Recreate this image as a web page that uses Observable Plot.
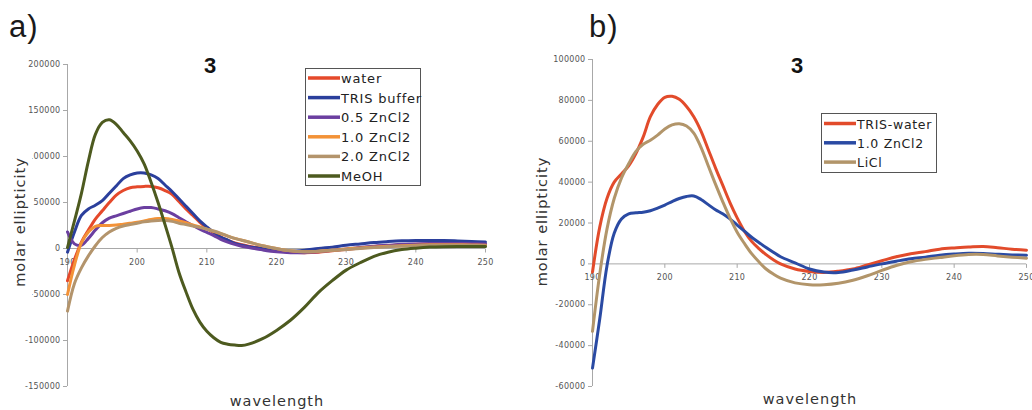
<!DOCTYPE html>
<html><head><meta charset="utf-8">
<script src="https://cdn.jsdelivr.net/npm/d3@7"></script>
<script src="https://cdn.jsdelivr.net/npm/@observablehq/plot@0.6"></script>
<style>
html,body{margin:0;padding:0;background:#fff;}
#wrap{position:relative;width:1032px;height:410px;overflow:hidden;background:#fff;}
#wrap svg{position:absolute;top:0;max-width:none;}
</style></head><body><div id="wrap"></div>
<script>
// ---- data ----
const wavelength = [190,191,192,193,194,195,196,197,198,199,200,201,202,203,204,205,206,207,208,209,210,211,212,213,214,215,216,
  218,220,222,224,226,228,230,232,234,236,238,240,242,244,246,248,250];
const xTicks = [190,200,210,220,230,240,250];

// panel a)
const seriesA = ["water","TRIS buffer","0.5 ZnCl2","1.0 ZnCl2","2.0 ZnCl2","MeOH"];
const water = [-35000,-12000,7000,20000,32000,41000,50000,58000,63000,66000,67000,67500,67500,66000,63000,59000,51000,43000,36000,28500,22500,17000,12500,9000,6000,4000,2500,
  0,-2500,-4000,-4500,-4000,-2500,-1000,500,2000,3000,4000,4500,5000,5000,5000,4800,4500];
const trisBuffer = [-4000,18000,36000,43000,47000,52000,60000,68000,76000,80000,82000,82000,80000,76000,69000,62000,54000,46000,38000,30000,23500,17500,12500,9000,5500,3500,2000,
  0,-2000,-3000,-2000,0,1500,3500,5000,6500,7500,8300,8700,8800,8700,8200,7600,7000];
const zn05 = [18000,5000,3500,11000,20000,28000,33000,35500,38000,40500,43000,44500,44500,43000,41000,38000,33500,29000,25000,21000,17500,14000,10000,7000,4500,2500,1000,
  -1500,-3500,-4500,-4500,-3500,-2000,-500,1000,2500,3500,4500,5000,5500,5500,5500,5200,5000];
const zn10 = [-50000,-18000,6000,18000,24000,25000,25000,25500,26500,27500,28500,30000,31500,32500,32500,31500,30000,28000,25500,23500,21000,18500,16000,13500,11000,9000,7000,
  3000,0,-2500,-3500,-3000,-2000,-500,500,1500,2500,3000,3500,4000,4000,4000,3800,3500];
const zn20 = [-68000,-38000,-21000,-8000,3000,12000,18000,22000,24500,26000,27500,29000,30000,30500,30500,29500,27500,26000,24500,23000,21000,19000,16500,13500,11000,9000,7000,
  3000,0,-2500,-3500,-3000,-2000,-1000,0,1000,2000,2500,3000,3500,3500,3500,3300,3000];
const meoh = [1000,30000,60000,95000,124000,137000,140000,135000,126000,117000,106000,92000,72000,50000,26000,1000,-26000,-47000,-66000,-80000,-90000,-97000,-102000,-104000,-105000,-105500,-104000,
  -98000,-89000,-78000,-64000,-48000,-35000,-23500,-15500,-8500,-4000,-1200,400,1500,2000,2200,2200,2200];
const yTicksA = [200000,150000,100000,50000,0,-50000,-100000,-150000];

// panel b)
const seriesB = ["TRIS-water","1.0 ZnCl2","LiCl"];
const trisWater = [-4000,18000,32000,40000,44000,48000,54000,62000,72000,78000,81500,82000,80500,77000,72000,65000,56000,47000,38500,30000,22500,16000,11000,7500,4500,2000,0,
  -2500,-3700,-4200,-3600,-2500,-500,1500,3500,5000,6000,7200,7800,8200,8500,7900,7200,6700];
const zn10B = [-51000,-27000,-1000,15000,22000,24500,25000,25300,26000,27300,28800,30500,32000,33000,33200,31500,29000,26500,24500,22000,19000,16000,13000,10500,8000,5700,3500,
  500,-2500,-4000,-4200,-3000,-1500,0,1300,2500,3300,4200,4800,5200,5100,4700,4400,4200];
const licl = [-33000,-5000,17000,32000,42000,49000,55000,58500,60500,63000,66000,68000,68600,67500,64000,57000,48000,39000,30500,22500,15500,10000,5000,1000,-2500,-5000,-7000,
  -9300,-10200,-10200,-9500,-8000,-5800,-3200,-800,1000,2200,3100,4000,4600,4600,3900,3300,2800];
const yTicksB = [100000,80000,60000,40000,20000,0,-20000,-40000,-60000];

// ---- styles ----
const colorsA = ["#e5492b","#2b3f9c","#6b3fa0","#f39237","#b3946c","#4d5a1f"];
const colorsB = ["#e24b2b","#2a4aa3","#b2956a"];
const axisGray = "#a8a8a8", labelGray = "#555";
const tickDown = {draw(ctx){ ctx.moveTo(0,0); ctx.lineTo(0,4); }};

function panel(opts){
  const {width, ml, mr, mt, mb, yDomain, yTicks, names, values, colors} = opts;
  const rows = names.flatMap((n, k) => wavelength.map((w, i) => ({wl: w, v: values[k][i], name: n})));
  return Plot.plot({
    width, height: 410, marginLeft: ml, marginRight: mr, marginTop: mt, marginBottom: mb,
    style: {fontFamily: "DejaVu Sans", fontSize: "8px", color: labelGray, background: "transparent", letterSpacing: "0.3px"},
    x: {domain: [190, 250], axis: null, label: null},
    y: {domain: yDomain, axis: null, label: null},
    color: {domain: names, range: colors},
    marks: [
      Plot.ruleY([0], {stroke: axisGray}),
      Plot.ruleX([190], {stroke: axisGray}),
      Plot.axisY(yTicks, {anchor: "left", label: null, tickSize: 4, tickPadding: 3, stroke: axisGray, fill: labelGray, fontSize: 8, tickFormat: d => String(d)}),
      Plot.dot(xTicks, {x: d => d, y: 0, symbol: tickDown, stroke: axisGray, fill: "none", strokeWidth: 1}),
      Plot.text(xTicks, {x: d => d, y: 0, dy: 14, text: d => String(d), fill: labelGray, fontSize: 8}),
      Plot.line(rows, {x: "wl", y: "v", z: "name", stroke: "name", strokeWidth: 3, curve: "catmull-rom"})
    ]
  });
}

const wrap = document.getElementById("wrap");
const pa = panel({width: 515, ml: 67, mr: 30, mt: 64, mb: 24, yDomain: [-150000, 200000], yTicks: yTicksA,
  names: seriesA, values: [water, trisBuffer, zn05, zn10, zn20, meoh], colors: colorsA});
pa.style.left = "0px";
wrap.appendChild(pa);
const pb = panel({width: 517, ml: 77, mr: 6, mt: 59, mb: 24, yDomain: [-60000, 100000], yTicks: yTicksB,
  names: seriesB, values: [trisWater, zn10B, licl], colors: colorsB});
pb.style.left = "515px";
wrap.appendChild(pb);

// ---- overlay: titles, axis titles, legends ----
const ov = d3.select(wrap).append("svg").attr("width", 1032).attr("height", 410)
  .style("left", "0px").style("pointer-events", "none");

function txt(x, y, s, o){
  const t = ov.append("text").attr("x", x).attr("y", y).text(s)
    .attr("font-family", o.family || "DejaVu Sans").attr("font-size", o.size)
    .attr("fill", o.fill || "#333").attr("text-anchor", o.anchor || "start")
    .style("letter-spacing", (o.ls || 0) + "px");
  if (o.weight) t.attr("font-weight", o.weight);
  if (o.rotate) t.attr("transform", `rotate(${o.rotate},${x},${y})`);
  return t;
}
// panel letters
txt(9, 37, "a)", {family: "Liberation Sans", size: 31, fill: "#1a1a1a", ls: 1});
txt(589, 37, "b)", {family: "Liberation Sans", size: 31, fill: "#1a1a1a", ls: 1});
// chart titles
txt(210, 73, "3", {family: "Liberation Sans", size: 22, weight: "bold", fill: "#111", anchor: "middle"});
txt(797, 73, "3", {family: "Liberation Sans", size: 22, weight: "bold", fill: "#111", anchor: "middle"});
// y axis titles (left one sits on a white box)
ov.append("rect").attr("x", 6).attr("y", 150).attr("width", 26.3).attr("height", 148).attr("fill", "#fff");
txt(25, 222, "molar ellipticity", {size: 14.5, ls: 1, anchor: "middle", rotate: -90});
txt(547, 221.5, "molar ellipticity", {size: 14.5, ls: 1, anchor: "middle", rotate: -90});
// x axis titles
txt(277, 406, "wavelength", {size: 14.5, ls: 1, anchor: "middle"});
txt(810, 404, "wavelength", {size: 14.5, ls: 1, anchor: "middle"});

function legend(x0, y0, w, h, names, colors, firstY, step, size, ls){
  ov.append("rect").attr("x", x0 + 0.5).attr("y", y0 + 0.5).attr("width", w).attr("height", h)
    .attr("fill", "#fff").attr("stroke", "#555").attr("stroke-width", 1);
  names.forEach((n, i) => {
    const y = firstY + i * step;
    ov.append("line").attr("x1", x0 + 3).attr("x2", x0 + 35).attr("y1", y).attr("y2", y)
      .attr("stroke", colors[i]).attr("stroke-width", 3.5);
    txt(x0 + 36, y + 5, n, {size, ls, fill: "#222"});
  });
}
legend(305, 68, 115, 117, seriesA, colorsA, 78, 19.6, 13, 0.8);
legend(821, 113, 115, 59, seriesB, colorsB, 123.5, 19.3, 12.5, 0.7);
</script></body></html>
